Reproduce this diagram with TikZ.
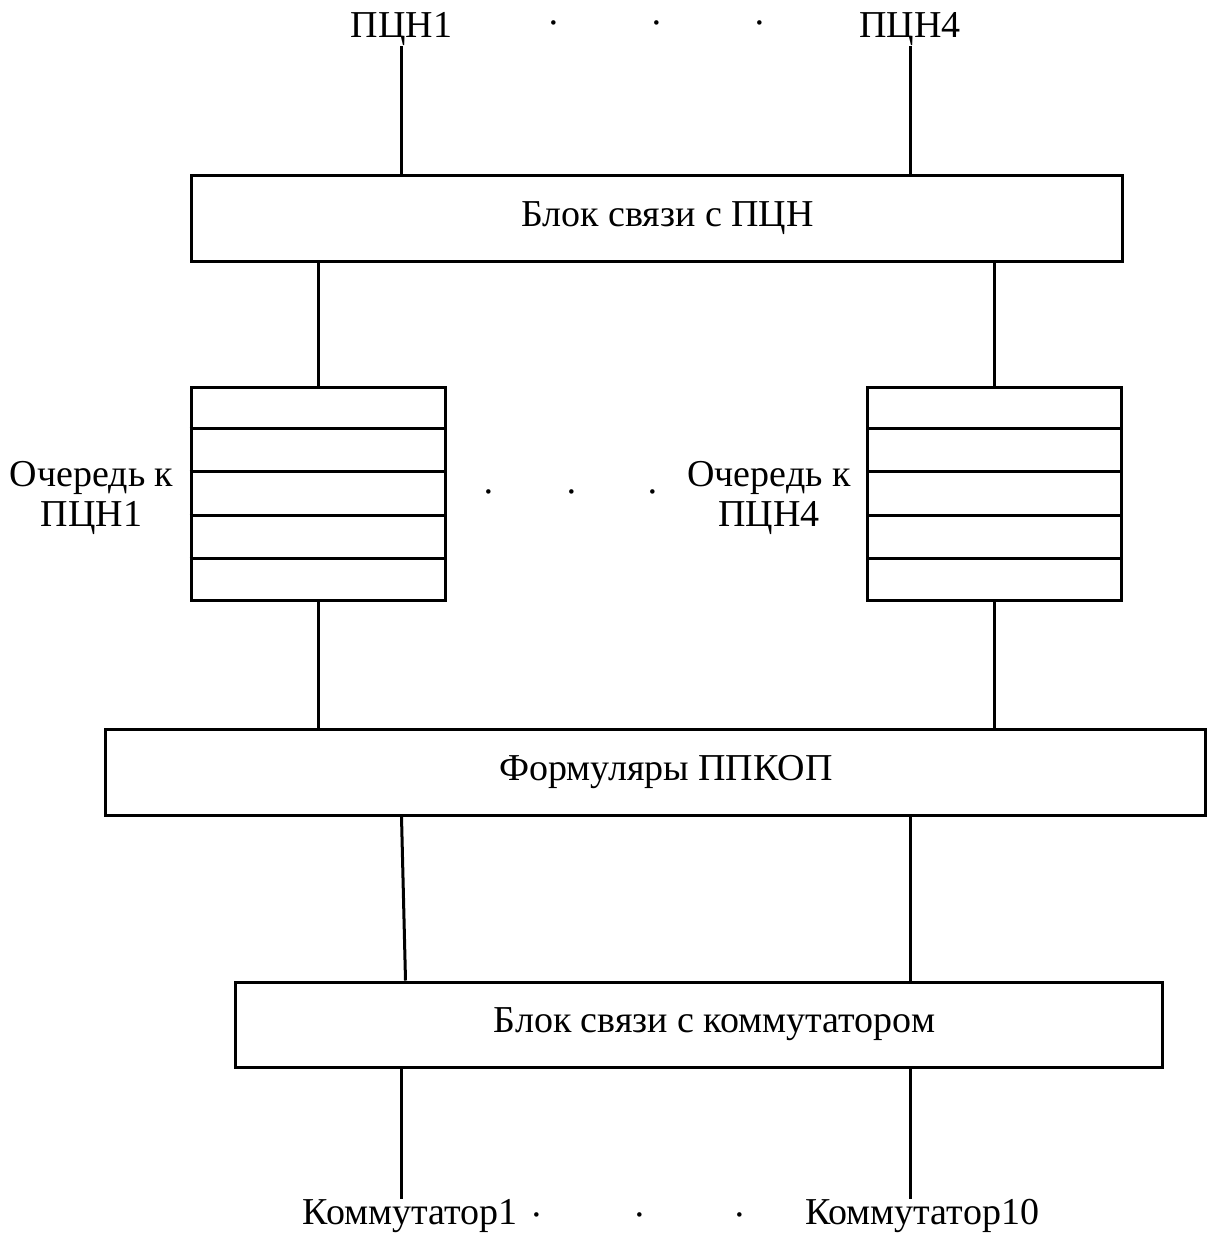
\documentclass[tikz,border=0pt]{standalone}
\usepackage{fontspec}
\setmainfont{Liberation Serif}
\usetikzlibrary{positioning,calc}

\begin{document}
\begin{tikzpicture}[
  x=1pt, y=-1pt,
  font=\fontsize{38}{40}\selectfont,
  box/.style={draw, line width=3pt, inner sep=0pt, minimum height=85pt},
  queue/.style={draw, line width=3pt, inner sep=0pt, minimum width=254pt, minimum height=213pt},
  lbl/.style={inner sep=0pt, align=center},
  wire/.style={line width=3pt}
]
\useasboundingbox (0,0) rectangle (1207,1233);

% channels on top
\node[lbl, anchor=base] (pcn1) at (401.5,38) {ПЦН1};
\node[lbl, anchor=base] (pcn4) at (910,38) {ПЦН4};
\foreach \x [count=\i] in {554,657,760}
  \node[lbl, anchor=base] (tdot\i) at (\x,36) {·};

\node[box, minimum width=931pt] (bsp) at (656.5,218.5) {\hspace*{22pt}Блок связи с ПЦН};
\draw[wire] (pcn1.south) -- (pcn1.south |- bsp.north);
\draw[wire] (pcn4.south) -- (pcn4.south |- bsp.north);

% queues
\node[queue] (q1) at (318,493.5) {};
\node[queue] (q4) at (994.5,493.5) {};
\foreach \q in {q1,q4}
  \foreach \k in {1,...,4}
    \draw[wire] ($(\q.north west)!\k/5!(\q.south west)$) -- ($(\q.north east)!\k/5!(\q.south east)$);

\node[lbl, left=16pt of q1, yshift=-4pt] (lq1) {Очередь к\\ПЦН1};
\node[lbl, left=15pt of q4, yshift=-4pt] (lq4) {Очередь к\\ПЦН4};
\foreach \x [count=\i] in {489,572,653}
  \node[lbl, anchor=base] (mdot\i) at (\x,504) {·};

\draw[wire] (q1.north) -- (q1.north |- bsp.south);
\draw[wire] (q4.north) -- (q4.north |- bsp.south);

\node[box, minimum width=1100pt, minimum height=86pt] (frm) at (655,772) {\hspace*{22pt}Формуляры ППКОП};
\draw[wire] (q1.south) -- (q1.south |- frm.north);
\draw[wire] (q4.south) -- (q4.south |- frm.north);

% switches
\node[box, minimum width=927pt] (sbk) at (698.5,1024.5) {\hspace*{32pt}Блок связи с коммутатором};
\draw[wire] (frm.south -| pcn1) -- ($(sbk.north -| pcn1)+(4,0)$);
\draw[wire] (frm.south -| pcn4) -- (sbk.north -| pcn4);

\node[lbl, anchor=base] (kom1) at (410,1224) {Коммутатор1};
\node[lbl, anchor=base] (kom10) at (922,1224) {Коммутатор10};
\foreach \x [count=\i] in {537,640,740}
  \node[lbl, anchor=base] (bdot\i) at (\x,1227) {·};

\draw[wire] (sbk.south -| pcn1) -- (kom1.north -| pcn1);
\draw[wire] (sbk.south -| pcn4) -- (kom10.north -| pcn4);

\end{tikzpicture}
\end{document}
